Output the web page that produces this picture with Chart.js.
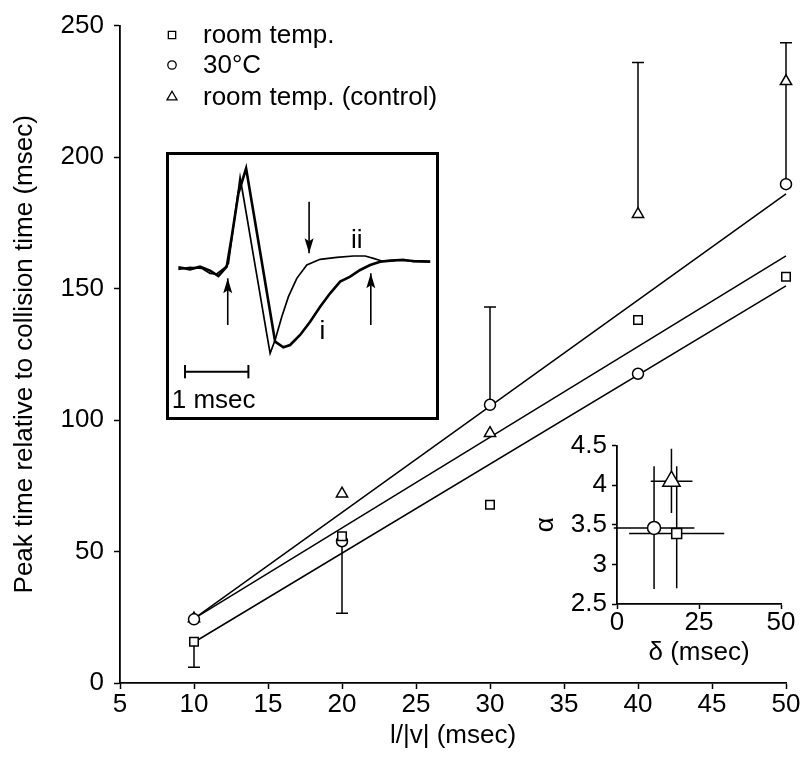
<!DOCTYPE html>
<html>
<head>
<meta charset="utf-8">
<script src="https://cdn.jsdelivr.net/npm/chart.js@4.4.0/dist/chart.umd.min.js"></script>
<style>
  body { margin: 0; background: #fff; }
  #wrap { position: relative; width: 804px; height: 761px; }
  #main { position: absolute; left: 0; top: 0; }
  #traceBox { position: absolute; left: 166px; top: 152px; width: 273px; height: 268px;
              box-sizing: border-box; border: 3px solid #000; background: #fff; }
  #trace { display: block; }
  #fit { position: absolute; left: 530px; top: 425px; }
</style>
</head>
<body>
<div id="wrap">
  <canvas id="main" width="804" height="761"></canvas>
  <div id="traceBox"><canvas id="trace" width="267" height="262"></canvas></div>
  <canvas id="fit" width="270" height="255"></canvas>
</div>
<script>
"use strict";

const FONT = '"Liberation Sans", Arial, Helvetica, sans-serif';
Chart.defaults.font.family = FONT;
Chart.defaults.color = '#000';
Chart.defaults.animation = false;

// ---- main plot: peak time vs l/|v| ----
const xVals = [10, 20, 30, 40, 50];
const roomTemp = [15.7, 55.8, 67.8, 138, 154.5];
const warm = [24.2, 53.9, 105.8, 117.6, 189.7];
const control = [24.5, 72, 95, 178.3, 228.8];

// where each error bar ends (null = none), and whether it gets a cap
const roomTempErr = [6, null, null, null, null];
const warmErr = [null, 26.5, 143, null, 228.8];
const warmCap = [true, true, true, true, false];
const controlErr = [null, null, null, 236, 243.5];

// regression lines, from x=10 to x=50
const fitX = [10, 50];
const roomTempFit = [15.5, 151];
const warmFit = [24.5, 186];
const controlFit = [24.5, 162.4];

const xTicks = [5, 10, 15, 20, 25, 30, 35, 40, 45, 50];
const yTicks = [0, 50, 100, 150, 200, 250];

const legendLabels = ['room temp.', '30\u00B0C', 'room temp. (control)'];
const shapes = ['rect', 'circle', 'triangle'];

// ---- trace inset (time in msec, amplitude in arbitrary units) ----
const traceITime = [0.184, 0.368, 0.526, 0.684, 0.816, 0.947, 1.026, 1.132, 1.253, 1.368, 1.474, 1.579, 1.711, 1.842, 1.947, 2.105, 2.263, 2.421, 2.579, 2.737, 2.895, 3.053, 3.211, 3.368, 3.526, 3.684, 3.895, 4.158];
const traceIVal = [0.03, -0.03, 0.05, -0.07, -0.23, 0.05, 0.95, 2.25, 3.0, 1.7, 0.5, -0.7, -2.2, -2.37, -2.3, -2.0, -1.6, -1.15, -0.75, -0.4, -0.25, -0.05, 0.1, 0.2, 0.23, 0.25, 0.22, 0.2];
const traceIITime = [0.184, 0.368, 0.553, 0.684, 0.789, 0.921, 0.974, 1.053, 1.158, 1.263, 1.368, 1.474, 1.579, 1.632, 1.711, 1.816, 1.921, 2.053, 2.211, 2.421, 2.684, 2.947, 3.132, 3.263, 3.395, 3.579, 3.737, 3.895, 4.158];
const traceIIVal = [-0.03, 0.03, 0, -0.15, -0.17, 0.03, 0.15, 1.25, 2.73, 1.57, 0.39, -0.79, -1.97, -2.55, -2.15, -1.45, -0.85, -0.3, 0.1, 0.27, 0.33, 0.37, 0.37, 0.3, 0.22, 0.23, 0.27, 0.2, 0.2];

const arrowT = [0.963, 2.247, 3.221];
const arrowFrom = [-1.7, 2.0, -1.7];
const arrowTip = [-0.3, 0.45, -0.15];
const barT = [0.289, 1.289];
const barV = -3.1;

// ---- alpha / delta inset ----
const deltaVals = [18.2, 11.3, 16.6];
const alphaVals = [3.39, 3.46, 4.05];
const deltaLo = [3.7, -1, 10.3];
const deltaHi = [32.7, 23.6, 23];
const alphaLo = [2.7, 2.69, 3.65];
const alphaHi = [4.24, 4.24, 4.46];
const deltaTicks = [0, 25, 50];
const alphaTicks = [2.5, 3, 3.5, 4, 4.5];

function pts(xs, ys) {
  return xs.map((x, i) => ({ x: x, y: ys[i] }));
}

function markers(data, style, r) {
  return {
    data: data, showLine: false, clip: false,
    pointStyle: style, pointRadius: r, pointHoverRadius: r,
    pointBackgroundColor: '#fff', pointBorderColor: '#000', pointBorderWidth: 1.5
  };
}

function lineSet(data, w) {
  return {
    data: data, showLine: true, pointRadius: 0, borderColor: '#000',
    borderWidth: w, tension: 0, clip: false
  };
}

function axisStyle(tickLen) {
  return {
    grid: { display: true, drawOnChartArea: false, drawTicks: true, tickLength: tickLen,
            tickWidth: 1.5, tickColor: '#000' },
    border: { display: true, color: '#000', width: 1.8 }
  };
}

// error bars go under the markers
const errorBars = {
  id: 'errorBars',
  beforeDatasetsDraw(chart) {
    const { ctx, scales: { x, y } } = chart;
    const groups = [
      [roomTemp, roomTempErr, null],
      [warm, warmErr, warmCap],
      [control, controlErr, null]
    ];
    ctx.save();
    ctx.strokeStyle = '#000';
    ctx.lineWidth = 1.5;
    groups.forEach(([vals, errs, caps]) => {
      errs.forEach((e, i) => {
        if (e === null) return;
        const px = x.getPixelForValue(xVals[i]);
        const y0 = y.getPixelForValue(vals[i]);
        const y1 = y.getPixelForValue(e);
        ctx.beginPath();
        ctx.moveTo(px, y0);
        ctx.lineTo(px, y1);
        if (!caps || caps[i]) {
          ctx.moveTo(px - 6, y1);
          ctx.lineTo(px + 6, y1);
        }
        ctx.stroke();
      });
    });
    ctx.restore();
  }
};

const legendBox = {
  id: 'legendBox',
  afterDraw(chart) {
    const ctx = chart.ctx;
    const rows = [35, 65, 97];
    const radii = [5.2, 4.2, 5.8];
    ctx.save();
    ctx.fillStyle = '#fff';
    ctx.strokeStyle = '#000';
    ctx.lineWidth = 1.3;
    shapes.forEach((s, i) => {
      Chart.helpers.drawPoint(ctx, { pointStyle: s, radius: radii[i], rotation: 0, borderWidth: 1.3 }, 172, rows[i]);
    });
    ctx.fillStyle = '#000';
    ctx.font = '26px ' + FONT;
    ctx.textBaseline = 'middle';
    ctx.textAlign = 'left';
    legendLabels.forEach((t, i) => ctx.fillText(t, 203, rows[i] + 1));
    ctx.restore();
  }
};

new Chart(document.getElementById('main'), {
  type: 'scatter',
  data: {
    datasets: [
      markers(pts(xVals, roomTemp), 'rect', 6),
      markers(pts(xVals, warm), 'circle', 5.5),
      markers(pts(xVals, control), 'triangle', 6.5),
      lineSet(pts(fitX, roomTempFit), 1.5),
      lineSet(pts(fitX, warmFit), 1.5),
      lineSet(pts(fitX, controlFit), 1.5)
    ]
  },
  options: {
    responsive: false,
    layout: { padding: { left: 0, right: 18, top: 24, bottom: 0 } },
    plugins: { legend: { display: false }, tooltip: { enabled: false } },
    scales: {
      x: Object.assign(axisStyle(6), {
        type: 'linear', min: 5, max: 50,
        afterBuildTicks: s => { s.ticks = xTicks.map(v => ({ value: v })); },
        ticks: { font: { size: 26 }, padding: 0, maxRotation: 0, autoSkip: false, color: '#000' },
        title: { display: true, text: 'l/|v| (msec)', font: { size: 26 }, padding: { top: 0, bottom: 10 } },
        afterFit: s => { s.height = 78; }
      }),
      y: Object.assign(axisStyle(6), {
        type: 'linear', min: 0, max: 250,
        afterBuildTicks: s => { s.ticks = yTicks.map(v => ({ value: v })); },
        ticks: { font: { size: 26 }, padding: 10, color: '#000' },
        title: { display: true, text: 'Peak time relative to collision time (msec)', font: { size: 26 }, padding: { top: 9, bottom: 0 } },
        afterFit: s => { s.width = 120; }
      })
    }
  },
  plugins: [errorBars, legendBox]
});

// ---- trace inset ----
const traceMarks = {
  id: 'traceMarks',
  afterDatasetsDraw(chart) {
    const { ctx, scales: { x, y } } = chart;
    ctx.save();
    ctx.fillStyle = '#000';
    arrowT.forEach((t, i) => {
      const px = x.getPixelForValue(t);
      const tip = y.getPixelForValue(arrowTip[i]);
      const dir = arrowTip[i] > arrowFrom[i] ? 1 : -1; // 1 = pointing up
      ctx.beginPath();
      ctx.moveTo(px, tip);
      ctx.lineTo(px - 4.5, tip + dir * 15);
      ctx.lineTo(px, tip + dir * 12);
      ctx.lineTo(px + 4.5, tip + dir * 15);
      ctx.closePath();
      ctx.fill();
    });
    ctx.font = '26px ' + FONT;
    ctx.textAlign = 'center';
    ctx.textBaseline = 'middle';
    ctx.fillText('ii', x.getPixelForValue(3.0), y.getPixelForValue(0.83));
    ctx.fillText('i', x.getPixelForValue(2.458), y.getPixelForValue(-1.9));
    ctx.fillText('1 msec', x.getPixelForValue(0.74), y.getPixelForValue(-3.97));
    ctx.restore();
  }
};

const traceSets = [
  lineSet(pts(traceITime, traceIVal), 2.6),
  lineSet(pts(traceIITime, traceIIVal), 1.7),
  lineSet(pts(barT, [barV, barV]), 2)
];
barT.forEach(t => traceSets.push(lineSet(pts([t, t], [barV - 0.2, barV + 0.2]), 2)));
arrowT.forEach((t, i) => traceSets.push(lineSet(pts([t, t], [arrowFrom[i], arrowTip[i]]), 1.6)));

new Chart(document.getElementById('trace'), {
  type: 'scatter',
  data: { datasets: traceSets },
  options: {
    responsive: false,
    layout: { padding: 0 },
    plugins: { legend: { display: false }, tooltip: { enabled: false } },
    scales: {
      x: { type: 'linear', display: false, min: 0.036, max: 4.25 },
      y: { type: 'linear', display: false, min: -4.46, max: 3.4 }
    }
  },
  plugins: [traceMarks]
});

// ---- alpha / delta inset ----
const crossBars = {
  id: 'crossBars',
  beforeDatasetsDraw(chart) {
    const { ctx, scales: { x, y } } = chart;
    ctx.save();
    ctx.strokeStyle = '#000';
    ctx.lineWidth = 1.5;
    deltaVals.forEach((d, i) => {
      const px = x.getPixelForValue(d);
      const py = y.getPixelForValue(alphaVals[i]);
      ctx.beginPath();
      ctx.moveTo(px, y.getPixelForValue(alphaLo[i]));
      ctx.lineTo(px, y.getPixelForValue(alphaHi[i]));
      ctx.moveTo(x.getPixelForValue(deltaLo[i]), py);
      ctx.lineTo(x.getPixelForValue(deltaHi[i]), py);
      ctx.stroke();
    });
    ctx.restore();
  }
};

const insetRadii = [7, 6.5, 10];
new Chart(document.getElementById('fit'), {
  type: 'scatter',
  data: {
    datasets: shapes.map((s, i) => markers([{ x: deltaVals[i], y: alphaVals[i] }], s, insetRadii[i]))
  },
  options: {
    responsive: false,
    layout: { padding: { left: 0, right: 19, top: 17, bottom: 0 } },
    plugins: { legend: { display: false }, tooltip: { enabled: false } },
    scales: {
      x: Object.assign(axisStyle(5), {
        type: 'linear', min: 0, max: 50,
        afterBuildTicks: s => { s.ticks = deltaTicks.map(v => ({ value: v })); },
        ticks: { font: { size: 26 }, padding: -2, maxRotation: 0, autoSkip: false, color: '#000' },
        title: { display: true, text: '\u03B4 (msec)', font: { size: 26 }, padding: { top: 0, bottom: 12 } },
        afterFit: s => { s.height = 76; }
      }),
      y: Object.assign(axisStyle(5), {
        type: 'linear', min: 2.5, max: 4.5,
        afterBuildTicks: s => { s.ticks = alphaTicks.map(v => ({ value: v })); },
        ticks: { font: { size: 26 }, padding: 5, color: '#000', callback: v => String(v) },
        title: { display: true, text: '\u03B1', font: { size: 26 }, padding: { top: 0, bottom: 0 } },
        afterFit: s => { s.width = 87; }
      })
    }
  },
  plugins: [crossBars]
});
</script>
</body>
</html>
